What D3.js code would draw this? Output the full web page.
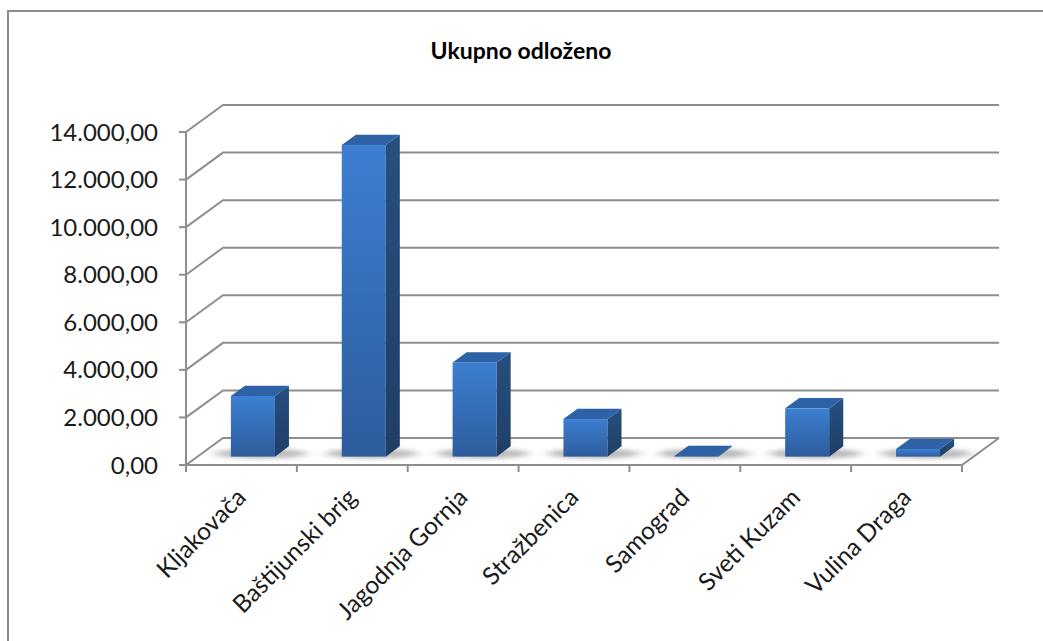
<!DOCTYPE html>
<html>
<head>
<meta charset="utf-8">
<script src="https://cdn.jsdelivr.net/npm/d3@7/dist/d3.min.js"></script>
<style>
  body { margin: 0; background: #fff; }
  svg { display: block; font-family: Lato, "Open Sans", sans-serif; }
</style>
</head>
<body>
<div id="chart"></div>
<script>
const categories = ["Kljakovača", "Baštijunski brig", "Jagodnja Gornja", "Stražbenica", "Samograd", "Sveti Kuzam", "Vulina Draga"];
const values = [2550, 13100, 3960, 1580, 30, 2030, 320];
const yTicks = [0, 2000, 4000, 6000, 8000, 10000, 12000, 14000];

const width = 1043, height = 641;
const DX = 37, DY = -27;      // depth of the 3D box
const d0 = 0.31, d1 = 0.69;   // bar depth position
const fmt = v => d3.format(",.2f")(v).replace(/,/g, "#").replace(".", ",").replace(/#/g, ".");

const svg = d3.select("#chart").append("svg")
  .attr("width", width)
  .attr("height", height);

const defs = svg.append("defs");
const gFront = defs.append("linearGradient").attr("id", "front").attr("x1", 0).attr("y1", 0).attr("x2", 0).attr("y2", 1);
gFront.append("stop").attr("offset", "0%").attr("stop-color", "#3c7fd2");
gFront.append("stop").attr("offset", "100%").attr("stop-color", "#2e5c9c");
const gSide = defs.append("linearGradient").attr("id", "side").attr("x1", 0).attr("y1", 0).attr("x2", 0).attr("y2", 1);
gSide.append("stop").attr("offset", "0%").attr("stop-color", "#26507f");
gSide.append("stop").attr("offset", "100%").attr("stop-color", "#1f3e66");
defs.append("filter").attr("id", "blur").attr("x", "-50%").attr("y", "-200%").attr("width", "200%").attr("height", "500%")
  .append("feGaussianBlur").attr("stdDeviation", "6 2");

// chart frame
svg.append("rect")
  .attr("x", 8).attr("y", 11)
  .attr("width", 1060).attr("height", 660)
  .attr("fill", "none").attr("stroke", "#8c8c8c").attr("stroke-width", 2);

svg.append("text")
  .attr("x", 521).attr("y", 59)
  .attr("text-anchor", "middle")
  .attr("font-size", 23).attr("font-weight", "bold")
  .attr("fill", "#000")
  .text("Ukupno odloženo");

const x = d3.scaleBand()
  .domain(categories)
  .range([186, 962]);

const y = d3.scaleLinear()
  .domain([0, 14000])
  .range([465, 132]);

const y0 = y(0);

// gridlines on back + side wall
const grid = svg.append("g").attr("stroke", "#8e8e8e").attr("stroke-width", 2).attr("fill", "none");
grid.selectAll("path")
  .data(yTicks)
  .enter()
  .append("path")
  .attr("d", d => `M186,${y(d)}L${186 + DX},${y(d) + DY}L${962 + DX},${y(d) + DY}`);

// floor front edge, right edge and value axis
grid.append("path").attr("d", `M186,${y0}L962,${y0}L${962 + DX},${y0 + DY}`);
grid.append("path").attr("d", `M186,${y(14000)}L186,${y0}`);

// ticks
grid.selectAll(".yt")
  .data(yTicks)
  .enter()
  .append("line")
  .attr("x1", 179).attr("x2", 186)
  .attr("y1", d => y(d)).attr("y2", d => y(d));
grid.selectAll(".xt")
  .data(categories.concat([null]))
  .enter()
  .append("line")
  .attr("x1", (d, i) => 186 + i * x.step()).attr("x2", (d, i) => 186 + i * x.step())
  .attr("y1", y0).attr("y2", y0 + 7);

// y labels
svg.append("g").selectAll("text")
  .data(yTicks)
  .enter()
  .append("text")
  .attr("x", 158)
  .attr("y", d => y(d))
  .attr("dy", "0.36em")
  .attr("text-anchor", "end")
  .attr("font-size", 24)
  .attr("fill", "#1a1a1a")
  .text(fmt);

// x labels
svg.append("g").selectAll("text")
  .data(categories)
  .enter()
  .append("text")
  .attr("transform", d => `translate(${x(d) + x.bandwidth() / 2 + 6},${y0 + 34}) rotate(-45)`)
  .attr("text-anchor", "end")
  .attr("font-size", 24.5)
  .attr("fill", "#1a1a1a")
  .text(d => d);

// bars
const barW = 44;
const bars = svg.append("g").selectAll("g")
  .data(categories.map((c, i) => ({ c, v: values[i] })))
  .enter()
  .append("g");

const fx = d => x(d.c) + (x.bandwidth() - barW) / 2 + d0 * DX;
const by = d0 * DY;
const sx = (d1 - d0) * DX, sy = (d1 - d0) * DY;

// shadows
bars.append("ellipse")
  .attr("cx", d => fx(d) + barW / 2 + 8)
  .attr("cy", y0 + by - 3)
  .attr("rx", barW * 1.05)
  .attr("ry", 5)
  .attr("fill", "#555")
  .attr("opacity", 0.4)
  .attr("filter", "url(#blur)");

bars.append("rect")
  .attr("x", d => fx(d))
  .attr("y", d => y(d.v) + by)
  .attr("width", barW)
  .attr("height", d => y0 - y(d.v))
  .attr("fill", "url(#front)");

bars.append("path")
  .attr("d", d => {
    const x1 = fx(d) + barW, t = y(d.v) + by, b = y0 + by;
    return `M${x1},${t}L${x1 + sx},${t + sy}L${x1 + sx},${b + sy}L${x1},${b}Z`;
  })
  .attr("fill", "url(#side)");

bars.append("path")
  .attr("d", d => {
    const x1 = fx(d), t = y(d.v) + by;
    return `M${x1},${t}L${x1 + barW},${t}L${x1 + barW + sx},${t + sy}L${x1 + sx},${t + sy}Z`;
  })
  .attr("fill", "#2d62a6");
</script>
</body>
</html>
